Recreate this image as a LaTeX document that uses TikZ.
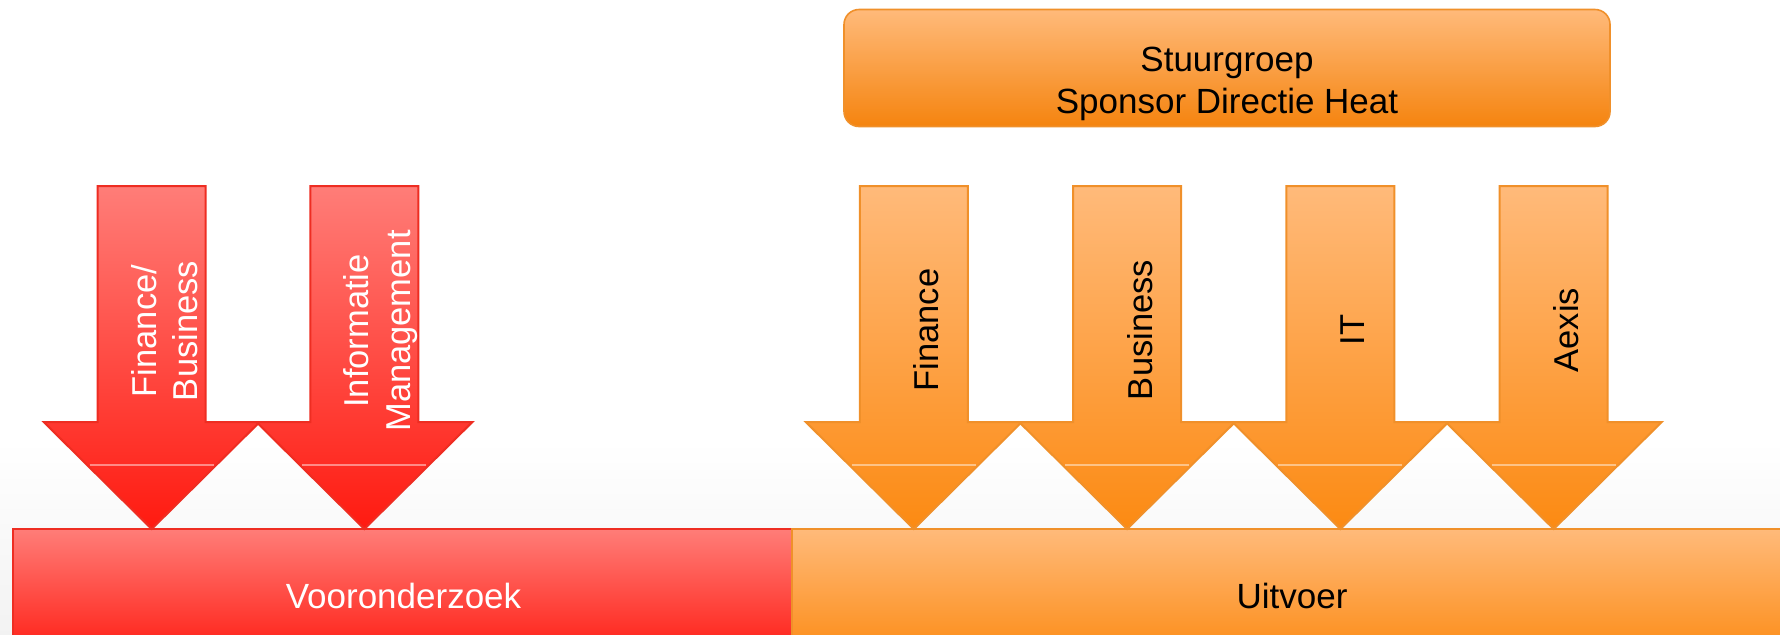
\documentclass[tikz,border=0pt]{standalone}
\usepackage{fontspec}
\setmainfont{Liberation Sans}
\definecolor{redtop}{HTML}{FF7D78}
\definecolor{redbot}{HTML}{FF1A10}
\definecolor{redline}{HTML}{EE2D22}
\definecolor{ortop}{HTML}{FFBA7A}
\definecolor{orbot}{HTML}{FC8A12}
\definecolor{orline}{HTML}{F0902A}
\definecolor{boxbot}{HTML}{F5840F}
\tikzset{
  redshape/.style={draw=redline, line width=1pt, line join=miter, top color=redtop, bottom color=redbot},
  orshape/.style={draw=orline, line width=1pt, line join=miter, top color=ortop, bottom color=orbot},
  hiline/.style={draw=white, draw opacity=0.45, line width=0.6pt},
  lbl/.style={rotate=90, align=center, inner sep=0pt, font=\fontsize{17.25pt}{20.8pt}\selectfont},
  txt/.style={align=center, inner sep=0pt, font=\fontsize{17.5pt}{20.8pt}\selectfont}
}
\begin{document}
\begin{tikzpicture}[x=0.5pt,y=-0.5pt]
\useasboundingbox (0,0) rectangle (1780,634);
\clip (0,0) rectangle (1780,634);
\fill[white] (0,0) rectangle (1780,634);
\shade[top color=white, bottom color=black!5] (0,440) rectangle (1780,634);
% bars
\path[redshape] (13,529) rectangle (792,660);
\path[orshape] (792,529) rectangle (1800,660);
% top box
\path[draw=orline, line width=0.8pt, rounded corners=7.5pt, top color=ortop, bottom color=boxbot] (844,9.5) rectangle (1610,126.5);
% red arrows
\foreach \t in {151.7,364.4} {
  \path[redshape] ({\t-54},186) -- ({\t+54},186) -- ({\t+54},422) -- ({\t+108},422) -- (\t,529) -- ({\t-108},422) -- ({\t-54},422) -- cycle;
  \draw[hiline] ({\t-62},465) -- ({\t+62},465);
}
% orange arrows
\foreach \t in {913.8,1127.1,1340.4,1553.7} {
  \path[orshape] ({\t-54},186) -- ({\t+54},186) -- ({\t+54},422) -- ({\t+108},422) -- (\t,529) -- ({\t-108},422) -- ({\t-54},422) -- cycle;
  \draw[hiline] ({\t-62},465) -- ({\t+62},465);
}
% labels
\node[lbl, text=white] (finbus) at (164.5,331) {Finance/\\Business};
\node[lbl, text=white] (infman) at (380.5,331) {Informatie\\Management};
\node[lbl] (fin) at (926.5,330) {Finance};
\node[lbl] (bus) at (1139.8,330) {Business};
\node[lbl] (it) at (1353,330) {IT};
\node[lbl] (aex) at (1566.2,330) {Aexis};
\node[txt] (stuur) at (1227,83.7) {Stuurgroep\\Sponsor Directie Heat};
\node[txt, text=white] (voor) at (403.5,595.5) {Vooronderzoek};
\node[txt] (uit) at (1292,596.3) {Uitvoer};
\end{tikzpicture}
\end{document}
